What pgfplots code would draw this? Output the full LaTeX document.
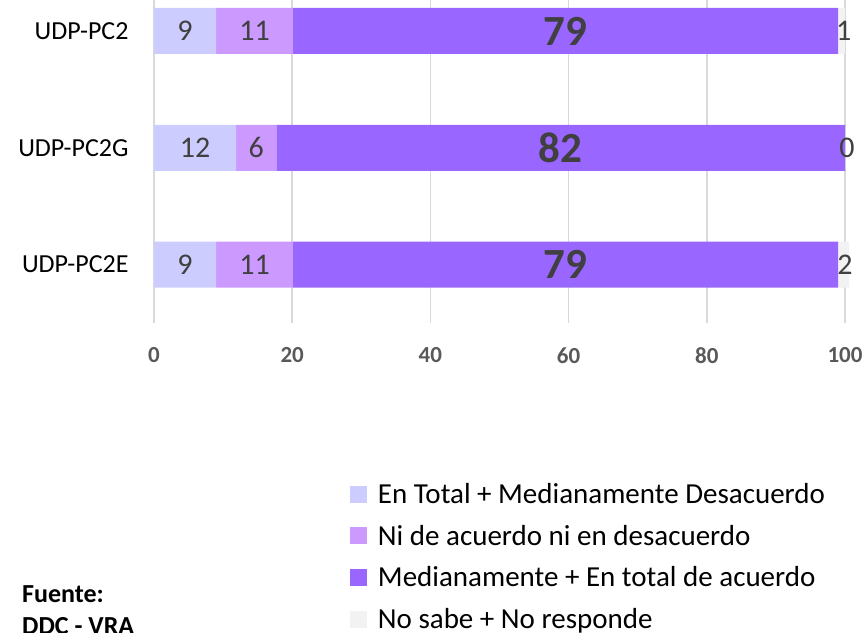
\documentclass[border=0pt]{standalone}
\usepackage{pgfplots}
\pgfplotsset{compat=1.18}
\usepackage{fontspec}
\setmainfont{Carlito}
\definecolor{cA}{HTML}{CCCCFF}
\definecolor{cB}{HTML}{CC99FF}
\definecolor{cC}{HTML}{9966FF}
\definecolor{cD}{HTML}{F2F2F2}
\definecolor{lab}{HTML}{404040}
\definecolor{tickc}{HTML}{595959}
\definecolor{gridc}{HTML}{D9D9D9}
\pgfplotsset{sq/.style={legend image code/.code={\fill[##1] (0pt,-8.5pt) rectangle (17pt,8.5pt);}}}
\begin{document}
\begin{tikzpicture}
\useasboundingbox (0pt,0pt) rectangle (867pt,632pt);
\begin{axis}[
  at={(154pt,309pt)}, anchor=south west,
  scale only axis, width=691pt, height=323pt,
  xbar stacked, bar width=46pt,
  xmin=0, xmax=100, ymin=-0.5, ymax=2.265,
  clip=false,
  xtick={0,20,40,60,80,100},
  ytick={0,1,2}, yticklabels={UDP-PC2E,UDP-PC2G,UDP-PC2},
  xmajorgrids, grid style={gridc, line width=1.5pt},
  axis line style={draw=none}, major tick length=0pt,
  /pgf/number format/assume math mode=true,
  xticklabel style={font=\bfseries\fontsize{23}{27}\selectfont, text=tickc, yshift=-21pt},
  yticklabel style={font=\fontsize{26}{30}\selectfont, text=black, xshift=-22pt},
  legend style={draw=none, fill=none, inner sep=0pt, outer sep=0pt,
    at={(0.2836,-0.49)}, anchor=north west, row sep=16pt,
    font=\fontsize{29}{34}\selectfont, cells={anchor=west},
    /tikz/every odd column/.append style={column sep=9pt}},
  legend cell align=left,
]
\addplot[fill=cA, draw=none, sq] coordinates {(9,2) (11.9,1) (9,0)};
\addplot[fill=cB, draw=none, sq] coordinates {(11.1,2) (5.8,1) (11.1,0)};
\addplot[fill=cC, draw=none, sq] coordinates {(78.9,2) (82.3,1) (78.9,0)};
\addplot[fill=cD, draw=none, sq] coordinates {(1.0,2) (0,1) (1.6,0)};
\legend{En Total + Medianamente Desacuerdo, Ni de acuerdo ni en desacuerdo, Medianamente + En total de acuerdo, No sabe + No responde}
\end{axis}
\begin{axis}[
  at={(154pt,309pt)}, anchor=south west,
  scale only axis, width=691pt, height=323pt,
  xmin=0, xmax=100, ymin=-0.5, ymax=2.265,
  hide axis, clip=false,
]
\addplot[only marks, mark=none, nodes near coords, point meta=explicit symbolic,
  nodes near coords align=center,
  every node near coord/.append style={font=\fontsize{30}{36}\selectfont, text=lab}]
  coordinates {(4.5,2)[9] (14.55,2)[11] (99.8,2)[1] (5.95,1)[12] (14.8,1)[6] (100.3,1)[0] (4.5,0)[9] (14.55,0)[11] (100,0)[2]};
\addplot[only marks, mark=none, nodes near coords, point meta=explicit symbolic,
  nodes near coords align=center,
  every node near coord/.append style={font=\bfseries\fontsize{43}{48}\selectfont, text=lab}]
  coordinates {(59.5,2)[79] (58.85,1)[82] (59.5,0)[79]};
\end{axis}
\node[anchor=north west, align=left, inner sep=0pt, font=\bfseries\fontsize{26}{32}\selectfont] at (22pt,47pt) {Fuente:\\DDC - VRA};
\end{tikzpicture}
\end{document}
